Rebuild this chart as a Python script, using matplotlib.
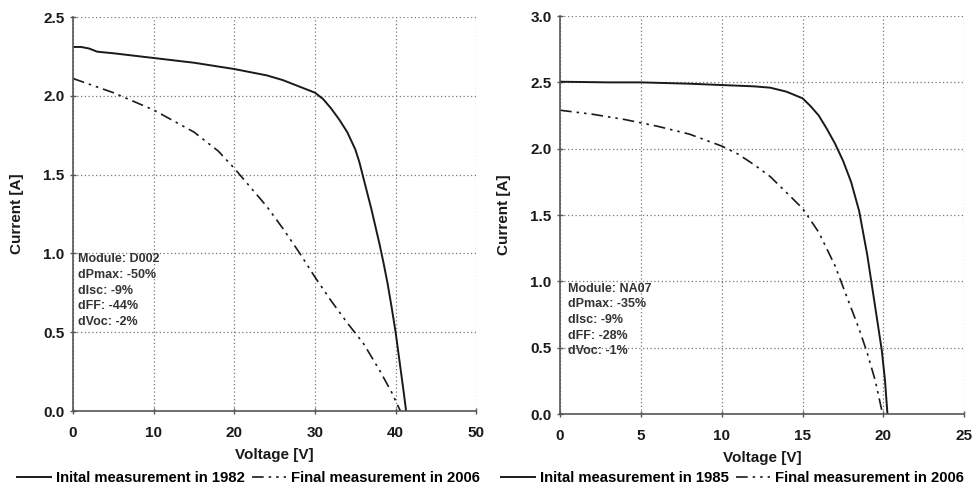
import matplotlib.pyplot as plt

plt.rcParams['font.family'] = 'Liberation Sans'
plt.rcParams['font.weight'] = 'bold'

# Module D002 (left panel)
v_d002_1982 = [0, 1, 2, 3, 5, 10, 15, 20, 24, 26, 28, 30, 31, 32, 33, 34, 35, 35.5, 36, 36.5,
               37, 37.5, 38, 38.5, 39, 39.5, 40, 40.5, 41, 41.3]
i_d002_1982 = [2.31, 2.31, 2.30, 2.28, 2.27, 2.24, 2.21, 2.17, 2.13, 2.10, 2.06, 2.02, 1.98, 1.92,
               1.85, 1.77, 1.66, 1.58, 1.48, 1.38, 1.28, 1.17, 1.06, 0.94, 0.81, 0.66, 0.50, 0.31,
               0.12, 0.0]
v_d002_2006 = [0, 5, 10, 15, 18, 20, 22, 24, 26, 28, 30, 32, 34, 36, 38, 39.5, 40.6]
i_d002_2006 = [2.11, 2.02, 1.91, 1.77, 1.65, 1.54, 1.42, 1.30, 1.16, 1.01, 0.85, 0.70, 0.56, 0.43,
               0.26, 0.12, 0.0]

# Module NA07 (right panel)
v_na07_1985 = [0, 3, 5, 8, 10, 12, 13, 14, 15, 15.5, 16, 16.5, 17, 17.5, 18, 18.5, 19, 19.5,
               19.9, 20.1, 20.25]
i_na07_1985 = [2.505, 2.50, 2.50, 2.49, 2.48, 2.47, 2.46, 2.43, 2.38, 2.32, 2.25, 2.15, 2.04,
               1.91, 1.75, 1.53, 1.20, 0.80, 0.48, 0.25, 0.0]
v_na07_2006 = [0, 2, 4, 6, 8, 10, 11, 12, 13, 14, 15, 16, 17, 18, 18.5, 19, 19.5, 19.95]
i_na07_2006 = [2.29, 2.26, 2.22, 2.17, 2.11, 2.02, 1.96, 1.88, 1.79, 1.67, 1.55, 1.37, 1.12,
               0.80, 0.64, 0.46, 0.25, 0.0]

notes_d002 = "Module: D002\ndPmax: -50%\ndIsc: -9%\ndFF: -44%\ndVoc: -2%"
notes_na07 = "Module: NA07\ndPmax: -35%\ndIsc: -9%\ndFF: -28%\ndVoc: -1%"

DASHDOT = (0, (7, 3, 1.5, 3, 1.5, 3))
INK = '#1a1a1a'

fig = plt.figure(figsize=(9.74, 4.86), dpi=100)


def draw_panel(rect, v1, i1, v2, i2, xmax, xstep, ymax, notes, note_xy, year1, leg_x):
    ax = fig.add_axes(rect)
    l1, = ax.plot(v1, i1, color=INK, lw=1.4, label=f'Inital measurement in {year1}')
    l2, = ax.plot(v2, i2, color=INK, lw=1.2, linestyle=DASHDOT, label='Final measurement in 2006')
    ax.set_xlim(0, xmax)
    ax.set_ylim(0, ymax)
    ax.set_xticks(range(0, xmax + 1, xstep))
    ax.set_yticks([k * 0.5 for k in range(int(ymax / 0.5) + 1)])
    ax.yaxis.set_major_formatter(plt.FormatStrFormatter('%.1f'))
    ax.grid(True, color='#777777', linestyle=(0, (1, 2)), lw=0.9)
    ax.spines['top'].set_visible(False)
    ax.spines['right'].set_visible(False)
    for s in ('left', 'bottom'):
        ax.spines[s].set_color('#555555')
        ax.spines[s].set_linewidth(1.2)
    ax.tick_params(direction='inout', length=5, width=1, color='#555555',
                   labelsize=11, labelcolor=INK)
    ax.tick_params(axis='x', pad=8)
    for lab in ax.get_xticklabels() + ax.get_yticklabels():
        lab.set_fontweight('bold')
    ax.set_xlabel('Voltage [V]', fontsize=11, fontweight='bold', color=INK, labelpad=6)
    ax.set_ylabel('Current [A]', fontsize=11, fontweight='bold', color=INK, labelpad=14)
    ax.text(note_xy[0], note_xy[1], notes, transform=ax.transAxes, fontsize=9,
            fontweight='bold', color='#333333', va='top', ha='left', linespacing=1.4)
    fig.legend(handles=[l1, l2], loc='center', bbox_to_anchor=(leg_x, 0.017), ncol=2,
               frameon=False, fontsize=10.7, handlelength=2.3, handletextpad=0.3,
               columnspacing=0.5, borderaxespad=0)
    return ax


draw_panel([0.075, 0.154, 0.414, 0.811], v_d002_1982, i_d002_1982, v_d002_2006, i_d002_2006,
           50, 10, 2.5, notes_d002, (0.012, 0.40), 1982, 0.255)
draw_panel([0.575, 0.148, 0.415, 0.819], v_na07_1985, i_na07_1985, v_na07_2006, i_na07_2006,
           25, 5, 3.0, notes_na07, (0.02, 0.33), 1985, 0.752)

fig.savefig('out.png', dpi=100)
